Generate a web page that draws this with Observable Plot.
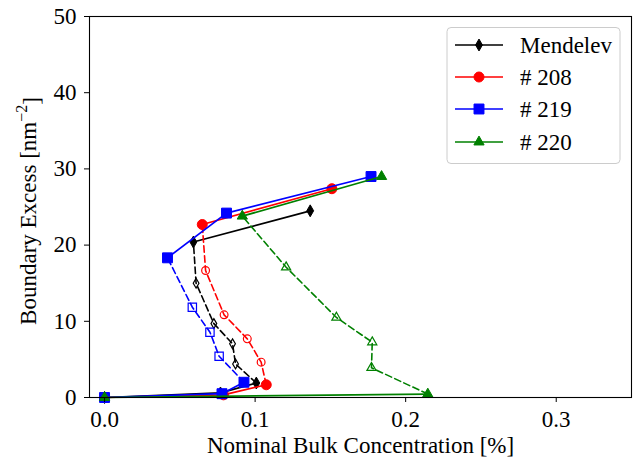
<!DOCTYPE html>
<html>
<head>
<meta charset="utf-8">
<script src="https://cdn.jsdelivr.net/npm/d3@7"></script>
<script src="https://cdn.jsdelivr.net/npm/@observablehq/plot@0.6"></script>
<style>
  html, body { margin: 0; padding: 0; background: white; }
  #chart { width: 634px; height: 463px; }
</style>
</head>
<body>
<div id="chart"></div>
<script>
// Series labels and legend order
const seriesNames = ["Mendelev", "# 208", "# 219", "# 220"];

// Nominal bulk concentration [%] and boundary excess [nm^-2]
// Each series: lower solid branch, dashed (unstable) branch, upper solid branch.
const mendelevLowX = [0, 0.077, 0.1008];
const mendelevLowY = [0, 0.6, 1.9];
const mendelevMidX = [0.1008, 0.087, 0.085, 0.0726, 0.0608, 0.059];
const mendelevMidY = [1.9, 4.4, 7.05, 9.7, 15.0, 20.4];
const mendelevHighX = [0.059, 0.1366];
const mendelevHighY = [20.4, 24.5];

const s208LowX = [0, 0.079, 0.1074];
const s208LowY = [0, 0.35, 1.67];
const s208MidX = [0.1074, 0.104, 0.0948, 0.0794, 0.0671, 0.0649];
const s208MidY = [1.67, 4.64, 7.7, 10.85, 16.67, 22.7];
const s208HighX = [0.0649, 0.151];
const s208HighY = [22.7, 27.4];

const s219LowX = [0, 0.078, 0.0926];
const s219LowY = [0, 0.5, 2.0];
const s219MidX = [0.0926, 0.0761, 0.070, 0.0583, 0.0418];
const s219MidY = [2.0, 5.42, 8.57, 11.85, 18.33];
const s219HighX = [0.0418, 0.081, 0.177];
const s219HighY = [18.33, 24.2, 29.0];

const s220LowX = [0, 0.2147];
const s220LowY = [0, 0.45];
const s220MidX = [0.2147, 0.1773, 0.1778, 0.154, 0.1206, 0.0915];
const s220MidY = [0.45, 3.9, 7.26, 10.5, 17.1, 23.8];
const s220HighX = [0.0915, 0.184];
const s220HighY = [23.8, 29.0];

// Axis ticks
const xTicks = [0, 0.1, 0.2, 0.3];
const yTicks = [0, 10, 20, 30, 40, 50];

// Styling per series
const seriesColors = ["black", "red", "blue", "green"];
const seriesSymbols = ["diamond", "circle", "square", "triangle"];
const d3Symbols = [d3.symbolDiamond, d3.symbolCircle, d3.symbolSquare, d3.symbolTriangle];
const filledR = [3.6, 5.0, 5.6, 3.8];
const openR = [3.0, 3.9, 4.7, 3.4];
const serif = "Liberation Serif";
const fontPx = 23;

const toRows = (xs, ys) => xs.map((x, i) => ({x, y: ys[i]}));

const branches = [
  [mendelevLowX, mendelevLowY, mendelevMidX, mendelevMidY, mendelevHighX, mendelevHighY],
  [s208LowX, s208LowY, s208MidX, s208MidY, s208HighX, s208HighY],
  [s219LowX, s219LowY, s219MidX, s219MidY, s219HighX, s219HighY],
  [s220LowX, s220LowY, s220MidX, s220MidY, s220HighX, s220HighY]
];

const seriesMarks = branches.flatMap(([lx, ly, mx, my, hx, hy], i) => {
  const low = toRows(lx, ly), mid = toRows(mx, my), high = toRows(hx, hy);
  const color = seriesColors[i];
  return [
    Plot.line(low, {x: "x", y: "y", stroke: color, strokeWidth: 1.7}),
    Plot.line(high, {x: "x", y: "y", stroke: color, strokeWidth: 1.7}),
    Plot.line(mid, {x: "x", y: "y", stroke: color, strokeWidth: 1.6, strokeDasharray: "6.5,3.5"}),
    Plot.dot(mid.slice(1, -1), {x: "x", y: "y", symbol: seriesSymbols[i], r: openR[i],
      stroke: color, strokeWidth: 1.2, fill: "none"}),
    Plot.dot(low.concat(high), {x: "x", y: "y", symbol: seriesSymbols[i], r: filledR[i],
      fill: color, stroke: color, strokeWidth: 1})
  ];
});

const svg = Plot.plot({
  width: 634,
  height: 463,
  marginLeft: 89,
  marginRight: 3,
  marginTop: 16,
  marginBottom: 66,
  style: `font-family: ${serif}; font-size: ${fontPx}px; background: white; color: black;`,
  x: {domain: [-0.01, 0.35]},
  y: {domain: [0, 50]},
  marks: [
    ...seriesMarks,
    Plot.frame({stroke: "black", strokeWidth: 1.1}),
    Plot.axisX(xTicks, {tickSize: 5, tickPadding: 8, tickFormat: d3.format(".1f"), label: null, fontSize: fontPx, fontFamily: serif}),
    Plot.axisY(yTicks, {tickSize: 5, tickPadding: 8, label: null, fontSize: fontPx, fontFamily: serif}),
    Plot.text(["Nominal Bulk Concentration [%]"], {frameAnchor: "bottom", dy: 55, fontSize: fontPx, fontFamily: serif})
  ]
});

svg.setAttribute("font-family", serif);
const root = d3.select(svg);

// Y-axis title with superscript exponent
const yTitle = root.append("text")
  .attr("transform", "translate(28,211) rotate(-90)")
  .attr("text-anchor", "middle")
  .attr("dominant-baseline", "central")
  .attr("font-family", serif)
  .attr("font-size", fontPx)
  .attr("fill", "black");
yTitle.append("tspan").text("Boundary Excess [nm");
yTitle.append("tspan").attr("dy", "-0.45em").attr("font-size", 16).text("\u22122");
yTitle.append("tspan").attr("dy", "0.45em").text("]");

// Legend box
const legend = root.append("g");
legend.append("rect")
  .attr("x", 447).attr("y", 27.5).attr("width", 173).attr("height", 136)
  .attr("rx", 4).attr("fill", "white").attr("fill-opacity", 0.8)
  .attr("stroke", "#cccccc").attr("stroke-width", 1);
const rowY = [45, 77, 109, 142];
seriesNames.forEach((name, i) => {
  const g = legend.append("g");
  g.append("line").attr("x1", 455).attr("x2", 503).attr("y1", rowY[i]).attr("y2", rowY[i])
    .attr("stroke", seriesColors[i]).attr("stroke-width", 1.7);
  g.append("path")
    .attr("d", d3.symbol(d3Symbols[i], filledR[i] * filledR[i] * Math.PI)())
    .attr("transform", `translate(479,${rowY[i]})`)
    .attr("fill", seriesColors[i]).attr("stroke", seriesColors[i]);
  g.append("text").attr("x", 520).attr("y", rowY[i])
    .attr("text-anchor", "start").attr("dominant-baseline", "central")
    .attr("font-family", serif)
    .attr("font-size", fontPx).attr("fill", "black").text(name);
});

document.getElementById("chart").appendChild(svg);
</script>
</body>
</html>
